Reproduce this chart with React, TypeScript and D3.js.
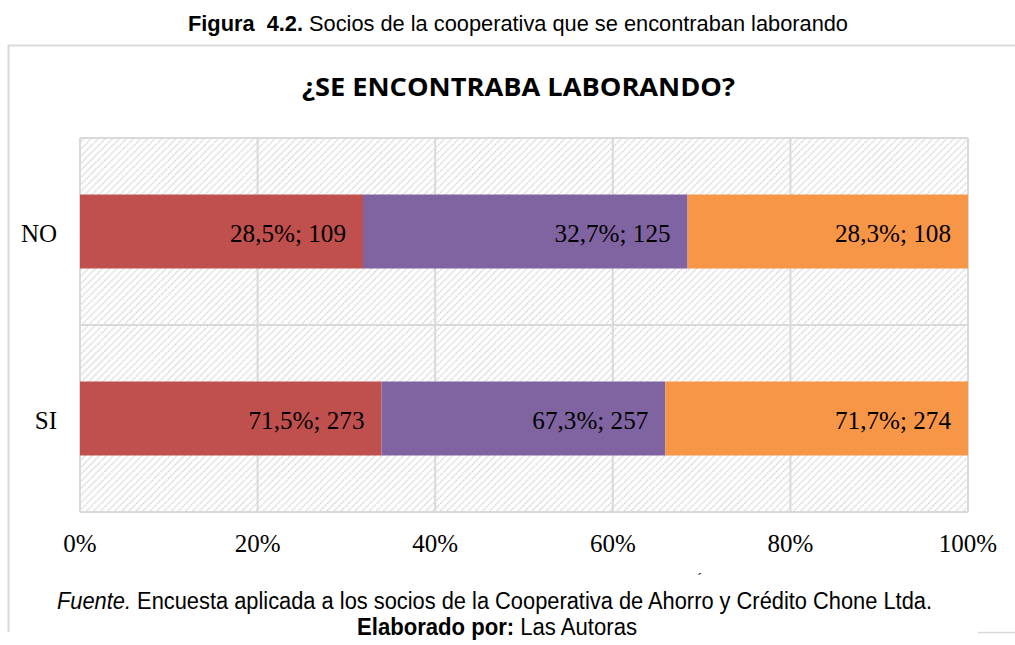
import React from "react";
import * as d3 from "d3";

const categories = ["NO", "SI"];
const seriesNames = ["Serie 1", "Serie 2", "Serie 3"];
const seriesColors = ["#C0504D", "#8064A2", "#F79646"];
const valuesNO = [109, 125, 108];
const valuesSI = [273, 257, 274];
const labelsNO = ["28,5%; 109", "32,7%; 125", "28,3%; 108"];
const labelsSI = ["71,5%; 273", "67,3%; 257", "71,7%; 274"];
const xTicks = [0, 0.2, 0.4, 0.6, 0.8, 1];

const W = 1015;
const H = 645;

export default function App() {
  const plot = { left: 80, right: 968, top: 138, bottom: 512 };
  const x = d3.scaleLinear().domain([0, 1]).range([plot.left, plot.right]);
  const y = d3.scaleBand().domain(categories).range([plot.top, plot.bottom]).paddingInner(0).paddingOuter(0);
  const barH = 74;
  const rows = [
    { cat: "NO", vals: valuesNO, labels: labelsNO },
    { cat: "SI", vals: valuesSI, labels: labelsSI },
  ];
  const serif = "'Liberation Serif', 'DejaVu Serif', serif";
  const sans = "'Liberation Sans', Arial, sans-serif";
  return (
    <svg width={W} height={H} style={{ position: "absolute", left: 0, top: 0, background: "#fff" }}>
      <defs>
        <pattern id="hatch" width="5" height="5" patternUnits="userSpaceOnUse" patternTransform="rotate(-45)">
          <line x1="0" y1="2.5" x2="5" y2="2.5" stroke="#cfcfcf" strokeWidth="1.3" strokeDasharray="1.5 1" />
        </pattern>
      </defs>
      <text x={188} y={31} textLength={660} lengthAdjust="spacingAndGlyphs" fontFamily={sans} fontSize={22} fill="#000">
        <tspan fontWeight="bold">{"Figura\u00a0 4.2."}</tspan> Socios de la cooperativa que se encontraban laborando
      </text>
      {/* frame */}
      <line x1={8.5} y1={45} x2={8.5} y2={632} stroke="#d9d9d9" strokeWidth={2} />
      <line x1={8} y1={45.5} x2={1015} y2={45.5} stroke="#d9d9d9" strokeWidth={2} />
      <line x1={978} y1={632.5} x2={1015} y2={632.5} stroke="#d9d9d9" strokeWidth={1.5} />
      <text x={302} y={96} textLength={433} lengthAdjust="spacingAndGlyphs" fontFamily="'Open Sans', 'Liberation Sans', sans-serif" fontWeight="bold" fontSize={25} fill="#000">
        ¿SE ENCONTRABA LABORANDO?
      </text>
      {/* plot background */}
      <rect x={plot.left} y={plot.top} width={plot.right - plot.left} height={plot.bottom - plot.top} fill="url(#hatch)" />
      {xTicks.map((t) => (
        <line key={t} x1={x(t)} x2={x(t)} y1={plot.top} y2={plot.bottom} stroke="#d9d9d9" strokeWidth={2} />
      ))}
      <line x1={plot.left} x2={plot.right} y1={plot.top} y2={plot.top} stroke="#d9d9d9" strokeWidth={2} />
      <line x1={plot.left} x2={plot.right} y1={plot.bottom} y2={plot.bottom} stroke="#d9d9d9" strokeWidth={2} />
      <line x1={plot.left} x2={plot.right} y1={y("SI")} y2={y("SI")} stroke="#d9d9d9" strokeWidth={2} />
      {rows.map((r) => {
        const total = d3.sum(r.vals);
        const cy = (y(r.cat) as number) + y.bandwidth() / 2;
        let acc = 0;
        return (
          <g key={r.cat}>
            {r.vals.map((v, i) => {
              const x0 = x(acc / total);
              acc += v;
              const x1 = x(acc / total);
              return (
                <g key={i}>
                  <rect x={x0} y={cy - barH / 2} width={x1 - x0} height={barH} fill={seriesColors[i]} />
                  <text x={x1 - 17} y={cy + 10} textAnchor="end" textLength={116} lengthAdjust="spacingAndGlyphs" fontFamily={serif} fontSize={25} fill="#000">
                    {r.labels[i]}
                  </text>
                </g>
              );
            })}
            <text x={57} y={cy + 10} textAnchor="end" fontFamily={serif} fontSize={25} fill="#000">
              {r.cat}
            </text>
          </g>
        );
      })}
      {xTicks.map((t) => (
        <text key={t} x={x(t)} y={552} textAnchor="middle" fontFamily={serif} fontSize={25} fill="#000">
          {d3.format(".0%")(t)}
        </text>
      ))}
      <text x={700} y={584} textAnchor="middle" fontFamily={sans} fontSize={14} fill="#000">´</text>
      <text x={57} y={609} textLength={875} lengthAdjust="spacingAndGlyphs" fontFamily={sans} fontSize={23} fill="#000">
        <tspan fontStyle="italic">Fuente.</tspan> Encuesta aplicada a los socios de la Cooperativa de Ahorro y Crédito Chone Ltda.
      </text>
      <text x={357} y={635} textLength={280} lengthAdjust="spacingAndGlyphs" fontFamily={sans} fontSize={23} fill="#000">
        <tspan fontWeight="bold">Elaborado por:</tspan> Las Autoras
      </text>
    </svg>
  );
}
